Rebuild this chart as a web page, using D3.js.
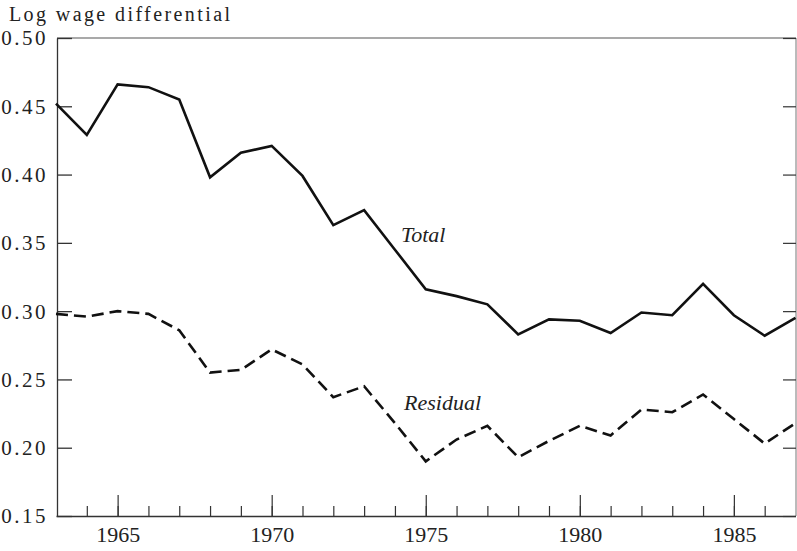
<!DOCTYPE html>
<html>
<head>
<meta charset="utf-8">
<script src="https://cdn.jsdelivr.net/npm/d3@7"></script>
<style>
  html, body { margin: 0; padding: 0; background: #fff; }
  svg { display: block; }
  text { font-family: "Liberation Serif", "DejaVu Serif", serif; fill: #222; }
</style>
</head>
<body>
<div id="chart"></div>
<script>
// data
var years = [1963,1964,1965,1966,1967,1968,1969,1970,1971,1972,1973,1974,1975,
             1976,1977,1978,1979,1980,1981,1982,1983,1984,1985,1986,1987];
var total = [0.452,0.429,0.466,0.464,0.455,0.398,0.416,0.421,0.399,0.363,0.374,0.345,0.316,
             0.311,0.305,0.283,0.294,0.293,0.284,0.299,0.297,0.320,0.297,0.282,0.295];
var residual = [0.298,0.296,0.300,0.298,0.286,0.255,0.257,0.272,0.261,0.237,0.245,0.218,0.190,
                0.206,0.216,0.193,0.205,0.216,0.209,0.228,0.226,0.239,0.221,0.203,0.218];
var yTicks = [0.15,0.20,0.25,0.30,0.35,0.40,0.45,0.50];
var majorYears = [1965,1970,1975,1980,1985];

var width = 797, height = 551,
    plotL = 57, plotR = 796, plotT = 38, plotB = 516;

var svg = d3.select("#chart").append("svg")
    .attr("width", width)
    .attr("height", height);

var x = d3.scaleLinear().domain([1963, 1987]).range([plotL - 1, plotR - 0.5]);
var y = d3.scaleLinear().domain([0.15, 0.50]).range([plotB, plotT]);

// frame
svg.append("line").attr("x1", plotL).attr("x2", plotR).attr("y1", plotT).attr("y2", plotT)
    .attr("stroke", "#555").attr("stroke-width", 1.2);
svg.append("line").attr("x1", plotR).attr("x2", plotR).attr("y1", plotT).attr("y2", plotB)
    .attr("stroke", "#777").attr("stroke-width", 1);

// left axis, ticks pointing inward
var yAxis = svg.append("g")
    .attr("transform", "translate(" + plotL + ",0)")
    .call(d3.axisLeft(y).tickValues(yTicks).tickFormat(d3.format(".2f"))
        .tickSizeInner(-15).tickSizeOuter(0).tickPadding(9));
yAxis.select(".domain").attr("stroke", "#333").attr("stroke-width", 1.3);
yAxis.selectAll(".tick line").attr("stroke", "#333").attr("stroke-width", 1.3);
yAxis.selectAll(".tick text")
    .attr("font-size", 21).attr("letter-spacing", "2.5px")
    .attr("font-family", "Liberation Serif").attr("fill", "#333")
    .attr("dy", "0.33em");

// right side ticks
var yAxisR = svg.append("g")
    .attr("transform", "translate(" + plotR + ",0)")
    .call(d3.axisRight(y).tickValues(yTicks).tickFormat("")
        .tickSizeInner(-13).tickSizeOuter(0));
yAxisR.select(".domain").remove();
yAxisR.selectAll(".tick line").attr("stroke", "#333").attr("stroke-width", 1.2);

// bottom axis: yearly minor ticks, 5-year major ticks with labels
var xMinor = svg.append("g")
    .attr("transform", "translate(0," + plotB + ")")
    .call(d3.axisBottom(x).tickValues(years.filter(function(d){ return d > 1963 && d < 1987; }))
        .tickFormat("").tickSizeInner(-10).tickSizeOuter(0));
xMinor.select(".domain").attr("stroke", "#333").attr("stroke-width", 1.3);
xMinor.selectAll(".tick line").attr("stroke", "#333").attr("stroke-width", 1.2);

var xMajor = svg.append("g")
    .attr("transform", "translate(0," + plotB + ")")
    .call(d3.axisBottom(x).tickValues(majorYears).tickFormat(d3.format("d"))
        .tickSizeInner(-21).tickSizeOuter(0).tickPadding(10));
xMajor.select(".domain").remove();
xMajor.selectAll(".tick line").attr("stroke", "#333").attr("stroke-width", 1.2);
xMajor.selectAll(".tick text")
    .attr("font-size", 22).attr("font-family", "Liberation Serif").attr("fill", "#333");

// axis title
svg.append("text")
    .attr("x", 9).attr("y", 21)
    .attr("font-size", 20)
    .attr("textLength", 221).attr("lengthAdjust", "spacing")
    .attr("fill", "#333")
    .text("Log wage differential");

// series
var line = d3.line()
    .x(function(d, i){ return x(years[i]); })
    .y(function(d){ return y(d); });

svg.append("path")
    .datum(total)
    .attr("fill", "none")
    .attr("stroke", "#111")
    .attr("stroke-width", 2.6)
    .attr("stroke-linejoin", "miter")
    .attr("d", line);

svg.append("path")
    .datum(residual)
    .attr("fill", "none")
    .attr("stroke", "#111")
    .attr("stroke-width", 2.6)
    .attr("stroke-dasharray", "12,6")
    .attr("d", line);

// series labels
svg.append("text")
    .attr("x", 401).attr("y", 242)
    .attr("font-size", 22).attr("font-style", "italic").attr("fill", "#444")
    .text("Total");

svg.append("text")
    .attr("x", 404).attr("y", 410)
    .attr("font-size", 22).attr("font-style", "italic").attr("fill", "#444")
    .text("Residual");
</script>
</body>
</html>
